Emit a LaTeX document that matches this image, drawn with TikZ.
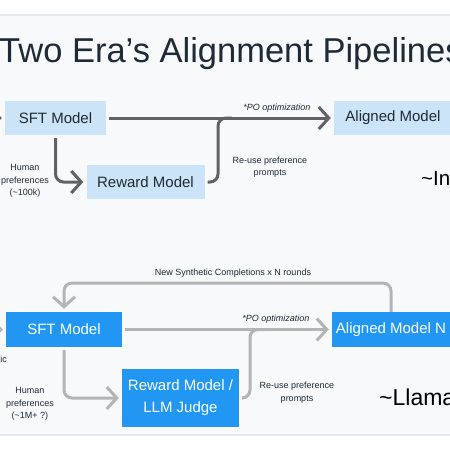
\documentclass[tikz,border=0pt]{standalone}
\usepackage{fontspec}
\setmainfont{Liberation Sans}
\usetikzlibrary{arrows.meta,positioning}
\definecolor{panelbg}{HTML}{F7F9FB}
\definecolor{rulegray}{HTML}{E3E8EC}
\definecolor{oldblue}{HTML}{CCE4F7}
\definecolor{newblue}{HTML}{2196F3}
\definecolor{darktext}{HTML}{1F2A36}
\definecolor{oldgray}{HTML}{626262}
\definecolor{newgray}{HTML}{B4B4B4}

\begin{document}
\begin{tikzpicture}[x=1pt,y=-1pt,
  oldbox/.style={fill=oldblue,text=darktext,inner sep=0pt,minimum height=34pt,font=\fontsize{15}{17}\selectfont},
  newbox/.style={fill=newblue,text=white,inner sep=0pt,minimum height=35pt,font=\fontsize{15}{22}\selectfont},
  smalltext/.style={inner sep=0pt,text=darktext,align=center,font=\fontsize{9}{12.5}\selectfont},
  eratext/.style={inner sep=0pt,anchor=base west,text=black,font=\fontsize{23}{26}\selectfont},
  oldflow/.style={draw=oldgray,line width=3pt,rounded corners=8pt,-{Straight Barb[length=10pt,width=22pt]}},
  oldline/.style={draw=oldgray,line width=3pt,rounded corners=8pt},
  newflow/.style={draw=newgray,line width=3pt,rounded corners=8pt,-{Straight Barb[length=10pt,width=22pt]}},
  newline/.style={draw=newgray,line width=3pt,rounded corners=8pt}]

\useasboundingbox (0,0) rectangle (450,450);
\clip (0,0) rectangle (450,450);

% Background panel
\fill[white] (0,0) rectangle (450,450);
\fill[panelbg] (0,15) rectangle (450,435);
\draw[rulegray,line width=1.2pt] (0,15) -- (450,15);
\draw[rulegray,line width=1.2pt] (0,435) -- (450,435);

% Title
\node[inner sep=0pt,anchor=base west,text=darktext,font=\fontsize{34.5}{40}\selectfont] (title) at (-1,62) {Two Era’s Alignment Pipelines};

% First era
\node[oldbox,minimum width=101pt] (sft) at (55.5,118) {SFT Model};
\node[oldbox,minimum width=118pt] (rm) at (145.5,182) {Reward Model};
\node[oldbox,minimum width=118pt] (aligned) at (393,118) {Aligned Model};
\coordinate (merge) at (218,118);

\draw[oldflow] (-40,118) -- ([xshift=-3pt]sft.west);
\draw[oldflow] ([xshift=3pt]sft.east) -- ([xshift=-3pt]aligned.west);
\draw[oldflow] ([yshift=-3pt]sft.south) |- ([xshift=-3pt]rm.west);
\draw[oldline] ([xshift=3pt]rm.east) -| (merge) -- ++(14,0);

\node[smalltext,font=\fontsize{9}{12.5}\itshape] (po) at (277,108) {*PO optimization};
\node[smalltext] (reuse) at (270,167) {Re-use preference\\prompts};
\node[smalltext] (human) at (25,181) {Human\\preferences\\(\textasciitilde100k)};
\node[eratext,font=\fontsize{20.5}{24}\selectfont] (era1) at (421,185) {\textasciitilde InstructGPT};

% Second era
\node[newbox,minimum width=116pt] (sftN) at (64,329.5) {SFT Model};
\node[newbox,minimum width=117pt,minimum height=58pt,align=center] (judge) at (180.5,398) {Reward Model /\\LLM Judge};
\node[newbox,minimum width=118pt] (alignedN) at (391,329.5) {Aligned Model N};
\coordinate (mergeN) at (250,329.5);
\coordinate (loopTop) at (230,283);

\draw[newflow] (-40,329.5) -- ([xshift=-3pt]sftN.west);
\draw[newflow] ([xshift=3pt]sftN.east) -- ([xshift=-3pt]alignedN.west);
\draw[newflow] ([yshift=-3pt]sftN.south) |- ([xshift=-3pt]judge.west);
\draw[newline] ([xshift=3pt]judge.east) -| (mergeN) -- ++(14,0);
\draw[newflow] (alignedN.north) |- (loopTop) -| ([yshift=3pt]sftN.north);

\node[smalltext] (loopLabel) at (233,273) {New Synthetic Completions x N rounds};
\node[smalltext,font=\fontsize{9}{12.5}\itshape] (poN) at (276,319) {*PO optimization};
\node[smalltext] (reuseN) at (297,392.5) {Re-use preference\\prompts};
\node[smalltext] (humanN) at (30,404) {Human\\preferences\\(\textasciitilde1M+ ?)};
\node[smalltext,anchor=east] (synth) at (7,360) {Synthetic};
\node[eratext] (era2) at (379,405) {\textasciitilde Llama 3};

\end{tikzpicture}
\end{document}
